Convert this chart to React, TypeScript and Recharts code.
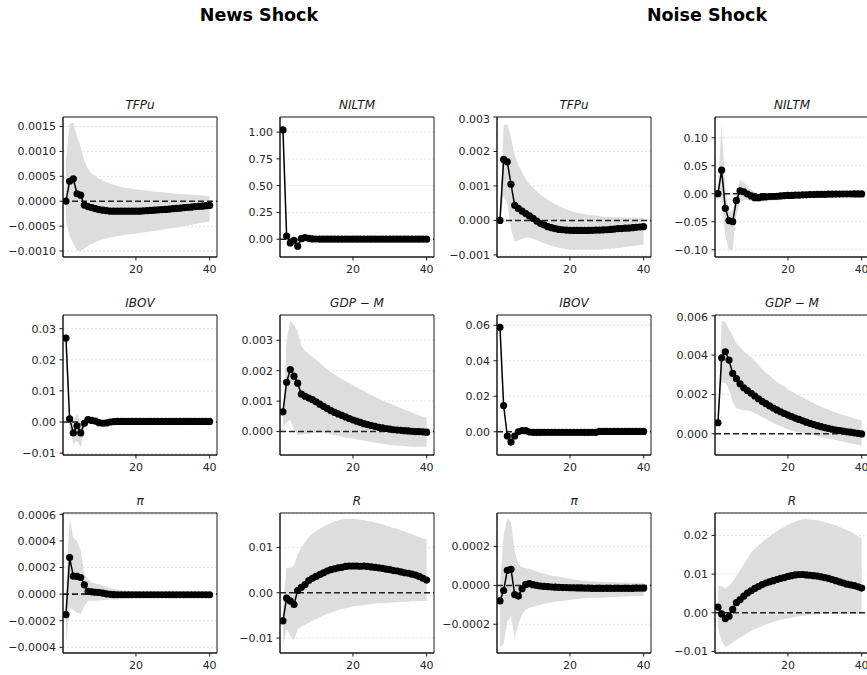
import {
  Area,
  CartesianGrid,
  ComposedChart,
  Line,
  ReferenceArea,
  ReferenceLine,
  XAxis,
  YAxis,
} from "recharts";

// impulse responses, horizons 1..40
const periods = Array.from({ length: 40 }, (_, i) => i + 1);
const xTicks = [20, 40];

// --- News shock ---
// TFPu (x1e-4)
const newsTfpuMean = [0, 4.0, 4.5, 1.5, 1.2, -0.8, -1.1, -1.3, -1.5, -1.7, -1.8, -1.9, -2.0, -2.0, -2.0, -2.0, -2.0, -2.0, -2.0, -2.0, -2.0, -1.95, -1.9, -1.85, -1.8, -1.75, -1.7, -1.65, -1.6, -1.5, -1.45, -1.4, -1.3, -1.25, -1.2, -1.1, -1.05, -1.0, -0.9, -0.85];
const newsTfpuHi = [8, 15.5, 15.8, 13.0, 11.0, 8.0, 6.5, 5.5, 5.0, 4.5, 4.1, 3.8, 3.5, 3.3, 3.1, 2.9, 2.7, 2.6, 2.5, 2.4, 2.3, 2.2, 2.1, 2.0, 1.9, 1.85, 1.8, 1.7, 1.65, 1.6, 1.5, 1.45, 1.4, 1.35, 1.3, 1.25, 1.2, 1.1, 1.05, 1.0];
const newsTfpuLo = [-4, -7.0, -8.5, -10.0, -10.0, -9.5, -9.0, -8.6, -8.2, -7.9, -7.7, -7.5, -7.3, -7.2, -7.0, -6.9, -6.8, -6.7, -6.6, -6.5, -6.4, -6.3, -6.2, -6.1, -6.0, -5.9, -5.8, -5.6, -5.5, -5.4, -5.3, -5.2, -5.0, -4.9, -4.8, -4.6, -4.5, -4.3, -4.2, -4.0];

// NILTM (x1)
const newsNiltmMean = [1.02, 0.03, -0.035, -0.01, -0.065, 0.005, 0.015, 0.008, 0.003, 0.002, 0.001, 0, 0, 0, 0, 0, 0, 0, 0, 0, 0, 0, 0, 0, 0, 0, 0, 0, 0, 0, 0, 0, 0, 0, 0, 0, 0, 0, 0, 0];
const newsNiltmHi = [1.08, 0.06, 0.0, 0.02, -0.04, 0.02, 0.025, 0.015, 0.01, 0.007, 0.005, 0.004, 0.003, 0.003, 0.003, 0.003, 0.003, 0.003, 0.003, 0.003, 0.003, 0.003, 0.003, 0.003, 0.003, 0.003, 0.003, 0.003, 0.003, 0.003, 0.003, 0.003, 0.003, 0.003, 0.003, 0.003, 0.003, 0.003, 0.003, 0.003];
const newsNiltmLo = [0.96, 0.0, -0.065, -0.04, -0.085, -0.01, 0.005, 0.0, -0.004, -0.004, -0.004, -0.003, -0.003, -0.003, -0.003, -0.003, -0.003, -0.003, -0.003, -0.003, -0.003, -0.003, -0.003, -0.003, -0.003, -0.003, -0.003, -0.003, -0.003, -0.003, -0.003, -0.003, -0.003, -0.003, -0.003, -0.003, -0.003, -0.003, -0.003, -0.003];

// IBOV (x1e-3)
const newsIbovMean = [27, 1.0, -3.5, -1.2, -3.5, -0.4, 0.8, 0.5, 0.3, -0.2, -0.4, -0.3, 0, 0.1, 0.2, 0.2, 0.2, 0.2, 0.2, 0.2, 0.2, 0.2, 0.2, 0.2, 0.2, 0.2, 0.2, 0.2, 0.2, 0.2, 0.2, 0.2, 0.2, 0.2, 0.2, 0.2, 0.2, 0.2, 0.2, 0.2];
const newsIbovHi = [33, 3.5, 0.5, 2.5, 0, 1.5, 1.5, 1.2, 1.0, 0.5, 0.3, 0.4, 0.6, 0.6, 0.7, 0.7, 0.7, 0.7, 0.7, 0.7, 0.7, 0.7, 0.7, 0.7, 0.7, 0.7, 0.7, 0.7, 0.7, 0.7, 0.7, 0.7, 0.7, 0.7, 0.7, 0.7, 0.7, 0.7, 0.7, 0.7];
const newsIbovLo = [22, -1.5, -7, -6, -8, -2.5, 0, -0.2, -0.4, -0.9, -1.0, -0.9, -0.5, -0.4, -0.3, -0.3, -0.3, -0.3, -0.3, -0.3, -0.3, -0.3, -0.3, -0.3, -0.3, -0.3, -0.3, -0.3, -0.3, -0.3, -0.3, -0.3, -0.3, -0.3, -0.3, -0.3, -0.3, -0.3, -0.3, -0.3];

// GDP-M (x1e-4)
const newsGdpMean = [6.5, 16.2, 20.4, 18.2, 15.9, 12.3, 11.6, 11.0, 10.5, 9.8, 9.0, 8.3, 7.6, 6.9, 6.3, 5.8, 5.3, 4.8, 4.3, 3.8, 3.4, 3.0, 2.6, 2.3, 2.0, 1.7, 1.4, 1.2, 1.0, 0.8, 0.6, 0.5, 0.4, 0.3, 0.2, 0.1, 0.0, 0.0, -0.1, -0.2];
const newsGdpHi = [3, 30, 36.5, 35, 33, 28, 26.5, 25.5, 24.5, 23.5, 22.5, 21.5, 20.5, 19.5, 18.8, 18.0, 17.3, 16.6, 15.9, 15.2, 14.6, 13.9, 13.3, 12.6, 12.0, 11.4, 10.8, 10.2, 9.7, 9.2, 8.7, 8.2, 7.7, 7.2, 6.8, 6.3, 5.8, 5.3, 4.9, 4.5];
const newsGdpLo = [1.5, 3, 4, 0.8, -1.2, -1.0, -0.8, -0.6, -0.5, -0.4, -0.3, -0.4, -0.6, -0.9, -1.2, -1.4, -1.7, -2.0, -2.2, -2.4, -2.6, -2.8, -3.0, -3.2, -3.4, -3.6, -3.8, -4.0, -4.2, -4.4, -4.5, -4.6, -4.7, -4.8, -4.9, -5.0, -5.0, -5.0, -5.0, -5.0];

// pi (x1e-5)
const newsPiMean = [-15.5, 27.5, 13.5, 13.3, 12.5, 7.0, 2.0, 1.7, 1.4, 1.2, 0.8, 0.2, -0.2, -0.4, -0.5, -0.5, -0.5, -0.5, -0.5, -0.5, -0.5, -0.5, -0.5, -0.5, -0.5, -0.5, -0.5, -0.5, -0.5, -0.5, -0.5, -0.5, -0.5, -0.5, -0.5, -0.5, -0.5, -0.5, -0.5, -0.5];
const newsPiHi = [0, 57, 42.5, 40, 32.5, 15, 11, 9, 8, 7.5, 6.5, 5.5, 4.5, 4, 3.5, 3, 2.7, 2.5, 2.2, 2.0, 1.8, 1.6, 1.5, 1.4, 1.3, 1.2, 1.2, 1.1, 1.1, 1.0, 1.0, 1.0, 1.0, 1.0, 1.0, 1.0, 1.0, 1.0, 1.0, 1.0];
const newsPiLo = [-38, -10, -12, -14, -15, -9, -5, -5, -5, -5, -4.5, -4.5, -4, -4, -4, -3.5, -3.5, -3.5, -3, -3, -3, -3, -3, -3, -3, -3, -3, -3, -3, -3, -3, -3, -3, -3, -3, -3, -3, -3, -3, -3];

// R (x1e-3)
const newsRMean = [-6.2, -1.2, -1.8, -2.6, 0.5, 1.2, 1.8, 2.7, 3.2, 3.6, 4.0, 4.4, 4.8, 5.1, 5.3, 5.5, 5.6, 5.8, 5.9, 5.9, 5.9, 5.85, 5.9, 5.8, 5.7, 5.6, 5.5, 5.4, 5.2, 5.1, 4.9, 4.8, 4.6, 4.4, 4.3, 4.1, 3.9, 3.6, 3.2, 2.8];
const newsRHi = [-3, 5.5, 5.5, 6.0, 8.5, 10, 11.2, 12.2, 13, 13.6, 14.1, 14.6, 15.0, 15.4, 15.7, 16.0, 16.2, 16.3, 16.3, 16.3, 16.2, 16.1, 16.0, 15.8, 15.7, 15.5, 15.3, 15.1, 14.8, 14.6, 14.3, 14.1, 13.8, 13.5, 13.2, 12.9, 12.6, 12.3, 12.0, 11.8];
const newsRLo = [-11.8, -8.0, -9.5, -10.5, -8.0, -7.5, -7.0, -6.6, -6.2, -5.8, -5.4, -5.0, -4.7, -4.4, -4.1, -3.8, -3.6, -3.4, -3.2, -3.0, -2.9, -2.8, -2.7, -2.6, -2.5, -2.4, -2.3, -2.3, -2.2, -2.2, -2.1, -2.1, -2.0, -2.0, -2.0, -1.9, -1.9, -1.8, -1.8, -1.8];

// --- Noise shock ---
// TFPu (x1e-4)
const noiseTfpuMean = [0, 17.7, 17.0, 10.5, 4.4, 3.5, 2.7, 2.0, 1.3, 0.6, -0.2, -0.9, -1.3, -1.8, -2.1, -2.4, -2.6, -2.7, -2.8, -2.85, -2.9, -2.9, -2.9, -2.9, -2.9, -2.85, -2.8, -2.8, -2.75, -2.7, -2.6, -2.5, -2.4, -2.35, -2.25, -2.2, -2.1, -2.0, -1.9, -1.8];
const noiseTfpuHi = [0, 27.5, 28, 24, 19, 16, 14, 12, 10.5, 9.5, 8.5, 7.5, 6.8, 6.0, 5.3, 4.7, 4.2, 3.7, 3.2, 2.8, 2.5, 2.2, 2.0, 1.8, 1.6, 1.5, 1.4, 1.3, 1.1, 1.0, 1.0, 0.9, 0.9, 0.9, 0.8, 0.8, 0.8, 0.8, 0.8, 0.8];
const noiseTfpuLo = [0, 7, 5, -2.5, -6.2, -5.8, -5.3, -5.0, -5.0, -5.3, -5.7, -6.2, -6.6, -7.0, -7.4, -7.6, -7.9, -8.1, -8.3, -8.4, -8.5, -8.5, -8.5, -8.5, -8.5, -8.5, -8.5, -8.5, -8.4, -8.3, -8.2, -8.1, -8.0, -7.9, -7.7, -7.5, -7.4, -7.3, -7.2, -7.1];

// NILTM (x1e-3)
const noiseNiltmMean = [0, 42, -26, -48, -50, -12, 5, 3.5, -0.5, -4, -7, -7, -6, -5.5, -5, -5, -4.5, -4, -3.5, -3, -3, -2.5, -2.5, -2, -2, -1.5, -1.5, -1, -1, -1, -0.8, -0.8, -0.6, -0.6, -0.5, -0.5, -0.5, -0.4, -0.4, -0.4];
const noiseNiltmHi = [10, 125, 10, -33, -30, -2, 25, 20, 13, 7, 2.5, 0, -1, -1, -1, -1, -0.5, 0, 0.5, 1, 1, 1.5, 1.5, 2, 2, 2.5, 2.5, 3, 3, 3, 3, 3, 3.2, 3.2, 3.3, 3.3, 3.3, 3.4, 3.4, 3.4];
const noiseNiltmLo = [-10, -8, -75, -102, -99, -39, -15, -11, -11, -13, -14.5, -14.5, -14, -13, -12.5, -12, -11.5, -11, -10.5, -10, -9.5, -9, -8.5, -8, -7.5, -7, -6.5, -6, -6, -5.5, -5, -5, -4.8, -4.6, -4.4, -4.3, -4.2, -4.2, -4.1, -4.1];

// IBOV (x1e-3)
const noiseIbovMean = [58.9, 14.8, -2.4, -5.8, -2.4, 0.0, 0.7, 0.6, -0.2, -0.3, -0.3, -0.3, -0.3, -0.3, -0.3, -0.3, -0.3, -0.3, -0.3, -0.3, -0.3, -0.3, -0.3, -0.3, -0.3, -0.3, -0.3, 0.2, 0.2, 0.2, 0.2, 0.2, 0.2, 0.2, 0.2, 0.2, 0.2, 0.2, 0.2, 0.2];
const noiseIbovHi = [62, 16.5, -0.5, -3.5, -1.0, 1.0, 1.5, 1.3, 0.6, 0.4, 0.4, 0.4, 0.4, 0.4, 0.4, 0.4, 0.4, 0.4, 0.4, 0.4, 0.4, 0.4, 0.4, 0.4, 0.4, 0.4, 0.5, 0.8, 0.8, 0.8, 0.8, 0.8, 0.8, 0.8, 0.8, 0.8, 0.8, 0.8, 0.8, 0.8];
const noiseIbovLo = [56, 13, -4.5, -8.5, -4.0, -1.0, 0, 0, -0.9, -1.0, -1.0, -1.0, -1.0, -1.0, -1.0, -1.0, -1.0, -1.0, -1.0, -1.0, -1.0, -1.0, -1.0, -1.0, -1.0, -1.0, -0.9, -0.4, -0.4, -0.4, -0.4, -0.4, -0.4, -0.4, -0.4, -0.4, -0.4, -0.4, -0.4, -0.4];

// GDP-M (x1e-4)
const noiseGdpMean = [5.6, 38.6, 41.7, 37.5, 30.7, 28.0, 25.4, 23.4, 22.0, 20.6, 19.2, 17.8, 16.5, 15.3, 14.2, 13.1, 12.1, 11.2, 10.3, 9.5, 8.7, 8.0, 7.3, 6.6, 5.9, 5.3, 4.7, 4.1, 3.6, 3.1, 2.7, 2.3, 1.9, 1.6, 1.3, 1.0, 0.8, 0.5, 0.2, -0.1];
const noiseGdpHi = [6.5, 57.5, 57, 53, 50, 46, 44, 42, 40.5, 39, 37, 35, 33, 31, 29.5, 28, 26.5, 25, 24, 22.5, 21.5, 20.5, 19.5, 18.5, 17.5, 16.5, 15.5, 14.5, 13.7, 13, 12.3, 11.5, 10.8, 10.2, 9.5, 9.0, 8.4, 7.8, 7.3, 6.8];
const noiseGdpLo = [4.5, 26, 26, 22.5, 16, 13, 12.5, 12, 11.8, 11.5, 10.5, 9.5, 8.5, 7.5, 6.5, 5.5, 4.6, 3.8, 3.0, 2.3, 1.7, 1.2, 0.7, 0.3, -0.1, -0.5, -0.9, -1.3, -1.6, -2.0, -2.4, -2.8, -3.2, -3.6, -4.0, -4.4, -4.8, -5.2, -5.6, -6.0];

// pi (x1e-5)
const noisePiMean = [-8.0, -2.6, 7.8, 8.3, -4.7, -5.5, -1.7, 0.5, 0.9, 0.4, 0, -0.3, -0.5, -0.6, -0.8, -0.9, -1.0, -1.1, -1.1, -1.2, -1.2, -1.3, -1.3, -1.4, -1.4, -1.5, -1.5, -1.5, -1.5, -1.5, -1.5, -1.5, -1.5, -1.5, -1.5, -1.5, -1.5, -1.4, -1.4, -1.4];
const noisePiHi = [0, 26, 34.6, 32.4, 17.8, 10.8, 9.5, 9.0, 8.5, 8.0, 7.2, 6.5, 6.0, 5.5, 5.0, 4.8, 4.5, 4.2, 3.8, 3.5, 3.1, 2.8, 2.6, 2.4, 2.2, 2.1, 2.0, 1.9, 1.8, 1.7, 1.6, 1.6, 1.5, 1.5, 1.5, 1.4, 1.4, 1.4, 1.4, 1.4];
const noisePiLo = [-32, -30, -18.4, -15.9, -27, -20, -15, -12.4, -11.5, -11, -10.5, -10, -9.5, -9, -8.6, -8.4, -8.2, -8.0, -7.7, -7.4, -7.2, -7.0, -6.8, -6.6, -6.5, -6.4, -6.4, -6.3, -6.2, -6.1, -6.0, -6.0, -5.9, -5.8, -5.7, -5.6, -5.6, -5.5, -5.5, -5.5];

// R (x1e-3)
const noiseRMean = [1.45, -0.3, -1.5, -0.9, 0.9, 2.6, 3.4, 4.3, 5.1, 5.7, 6.3, 6.8, 7.3, 7.7, 8.0, 8.3, 8.6, 8.9, 9.1, 9.4, 9.6, 9.8, 9.9, 9.9, 9.8, 9.7, 9.6, 9.5, 9.3, 9.1, 8.9, 8.6, 8.3, 8.0, 7.7, 7.4, 7.2, 7.0, 6.7, 6.4];
const noiseRHi = [7.0, 6.8, 6.5, 6.9, 8.0, 9.5, 11, 12.5, 14, 15.5, 16.5, 17.4, 18.3, 19.1, 19.8, 20.5, 21.1, 21.7, 22.2, 22.7, 23.2, 23.6, 24.0, 24.2, 24.2, 24.1, 24.0, 23.9, 23.7, 23.4, 23.2, 22.9, 22.6, 22.2, 21.8, 21.4, 21.0, 20.4, 19.8, 19.2];
const noiseRLo = [-3.8, -7.3, -8.8, -8.3, -7.7, -7.0, -6.4, -5.8, -5.2, -4.7, -4.2, -3.8, -3.4, -3.0, -2.7, -2.4, -2.1, -1.8, -1.6, -1.4, -1.2, -1.0, -0.9, -0.8, -0.7, -0.6, -0.5, -0.4, -0.4, -0.3, -0.3, -0.3, -0.3, -0.3, -0.3, -0.3, -0.3, -0.3, -0.3, -0.3];

const colLeft = [63, 280, 497, 715];
const rowTop = [117, 315, 513];
const PLOT_W = 154;
const PLOT_H = 140;
const Y_W = 62;
const X_H = 24;
const PAD_TOP = 4;
const X_DOMAIN: [number, number] = [0.2, 42];

interface PanelSpec {
  title: string;
  col: number;
  row: number;
  unit: number;
  mean: number[];
  hi: number[];
  lo: number[];
  domain: [number, number];
  ticks: number[];
  digits: number;
}

const panels: PanelSpec[] = [
  { title: "TFPu", col: 0, row: 0, unit: 1e-4, mean: newsTfpuMean, hi: newsTfpuHi, lo: newsTfpuLo, domain: [-0.00112, 0.00169], ticks: [-0.001, -0.0005, 0, 0.0005, 0.001, 0.0015], digits: 4 },
  { title: "NILTM", col: 1, row: 0, unit: 1, mean: newsNiltmMean, hi: newsNiltmHi, lo: newsNiltmLo, domain: [-0.166, 1.141], ticks: [0, 0.25, 0.5, 0.75, 1.0], digits: 2 },
  { title: "TFPu", col: 2, row: 0, unit: 1e-4, mean: noiseTfpuMean, hi: noiseTfpuHi, lo: noiseTfpuLo, domain: [-0.00106, 0.003], ticks: [-0.001, 0, 0.001, 0.002, 0.003], digits: 3 },
  { title: "NILTM", col: 3, row: 0, unit: 1e-3, mean: noiseNiltmMean, hi: noiseNiltmHi, lo: noiseNiltmLo, domain: [-0.113, 0.137], ticks: [-0.1, -0.05, 0, 0.05, 0.1], digits: 2 },
  { title: "IBOV", col: 0, row: 1, unit: 1e-3, mean: newsIbovMean, hi: newsIbovHi, lo: newsIbovLo, domain: [-0.0106, 0.0344], ticks: [-0.01, 0, 0.01, 0.02, 0.03], digits: 2 },
  { title: "GDP \u2212 M", col: 1, row: 1, unit: 1e-4, mean: newsGdpMean, hi: newsGdpHi, lo: newsGdpLo, domain: [-0.00077, 0.00383], ticks: [0, 0.001, 0.002, 0.003], digits: 3 },
  { title: "IBOV", col: 2, row: 1, unit: 1e-3, mean: noiseIbovMean, hi: noiseIbovHi, lo: noiseIbovLo, domain: [-0.0131, 0.0658], ticks: [0, 0.02, 0.04, 0.06], digits: 2 },
  { title: "GDP \u2212 M", col: 3, row: 1, unit: 1e-4, mean: noiseGdpMean, hi: noiseGdpHi, lo: noiseGdpLo, domain: [-0.00108, 0.00604], ticks: [0, 0.002, 0.004, 0.006], digits: 3 },
  { title: "\u03c0", col: 0, row: 2, unit: 1e-5, mean: newsPiMean, hi: newsPiHi, lo: newsPiLo, domain: [-0.000443, 0.00061], ticks: [-0.0004, -0.0002, 0, 0.0002, 0.0004, 0.0006], digits: 4 },
  { title: "R", col: 1, row: 2, unit: 1e-3, mean: newsRMean, hi: newsRHi, lo: newsRLo, domain: [-0.0133, 0.0176], ticks: [-0.01, 0, 0.01], digits: 2 },
  { title: "\u03c0", col: 2, row: 2, unit: 1e-5, mean: noisePiMean, hi: noisePiHi, lo: noisePiLo, domain: [-0.000348, 0.000373], ticks: [-0.0002, 0, 0.0002], digits: 4 },
  { title: "R", col: 3, row: 2, unit: 1e-3, mean: noiseRMean, hi: noiseRHi, lo: noiseRLo, domain: [-0.0104, 0.0258], ticks: [-0.01, 0, 0.01, 0.02], digits: 2 },
];

const INK = "#1a1a1a";
const FONT = "'DejaVu Sans', sans-serif";
const tickStyle = { fontSize: 11, fill: "#262626", fontFamily: FONT };

// svg tick text does not always pick the family up from the props
const tickCss = `
.recharts-cartesian-axis-tick-value, .recharts-cartesian-axis-tick-value tspan {
  font-family: 'DejaVu Sans', sans-serif !important;
  font-size: 11px !important;
}`;

function fmt(digits: number) {
  return (v: number) => {
    const s = Math.abs(v) < 1e-12 ? (0).toFixed(digits) : v.toFixed(digits);
    return s.replace("-", "\u2212");
  };
}

function Panel({ p }: { p: PanelSpec }) {
  const rows = periods.map((t, i) => ({
    t,
    mean: p.mean[i] * p.unit,
    band: [p.lo[i] * p.unit, p.hi[i] * p.unit],
  }));
  const left = colLeft[p.col];
  const top = rowTop[p.row];

  return (
    <>
      <div
        style={{
          position: "absolute",
          left,
          top: top - 19,
          width: PLOT_W,
          textAlign: "center",
          fontSize: 12,
          fontStyle: "italic",
          lineHeight: "14px",
          color: INK,
        }}
      >
        {p.title}
      </div>
      <div style={{ position: "absolute", left: left - Y_W, top: top - PAD_TOP }}>
        <ComposedChart
          width={Y_W + PLOT_W + 2}
          height={PAD_TOP + PLOT_H + X_H}
          data={rows}
          margin={{ top: PAD_TOP, right: 2, bottom: 0, left: 0 }}
        >
          <CartesianGrid vertical={false} stroke="#dcdcdc" strokeDasharray="2 2" strokeWidth={0.8} />
          <XAxis
            dataKey="t"
            type="number"
            domain={X_DOMAIN}
            ticks={xTicks}
            allowDataOverflow
            height={X_H}
            tickSize={3.5}
            tickMargin={4.5}
            stroke={INK}
            tick={tickStyle}
          />
          <YAxis
            type="number"
            domain={p.domain}
            ticks={p.ticks}
            allowDataOverflow
            width={Y_W}
            tickSize={3.5}
            tickMargin={3.5}
            stroke={INK}
            tick={tickStyle}
            tickFormatter={fmt(p.digits)}
          />
          <Area
            dataKey="band"
            type="linear"
            fill="#dddddd"
            fillOpacity={1}
            stroke="none"
            isAnimationActive={false}
          />
          <ReferenceLine y={0} stroke="#222" strokeWidth={1.6} strokeDasharray="6 3" />
          <Line
            dataKey="mean"
            type="linear"
            stroke="#000"
            strokeWidth={1.5}
            dot={{ r: 3.6, fill: "#000", stroke: "#000", strokeWidth: 0 }}
            isAnimationActive={false}
          />
          <ReferenceArea
            x1={X_DOMAIN[0]}
            x2={X_DOMAIN[1]}
            y1={p.domain[0]}
            y2={p.domain[1]}
            fill="none"
            stroke={INK}
            strokeWidth={1}
          />
        </ComposedChart>
      </div>
    </>
  );
}

export default function App() {
  const heading = {
    position: "absolute" as const,
    top: 4,
    width: 300,
    textAlign: "center" as const,
    fontSize: 17.5,
    fontWeight: "bold" as const,
    lineHeight: "22px",
    color: "#000",
  };
  return (
    <div
      style={{
        position: "absolute",
        left: 0,
        top: 0,
        width: 867,
        height: 675,
        overflow: "hidden",
        background: "#fff",
        fontFamily: FONT,
      }}
    >
      <style>{tickCss}</style>
      <div style={{ ...heading, left: 259 - 150 }}>News Shock</div>
      <div style={{ ...heading, left: 707 - 150 }}>Noise Shock</div>
      {panels.map((p, i) => (
        <Panel key={i} p={p} />
      ))}
    </div>
  );
}
